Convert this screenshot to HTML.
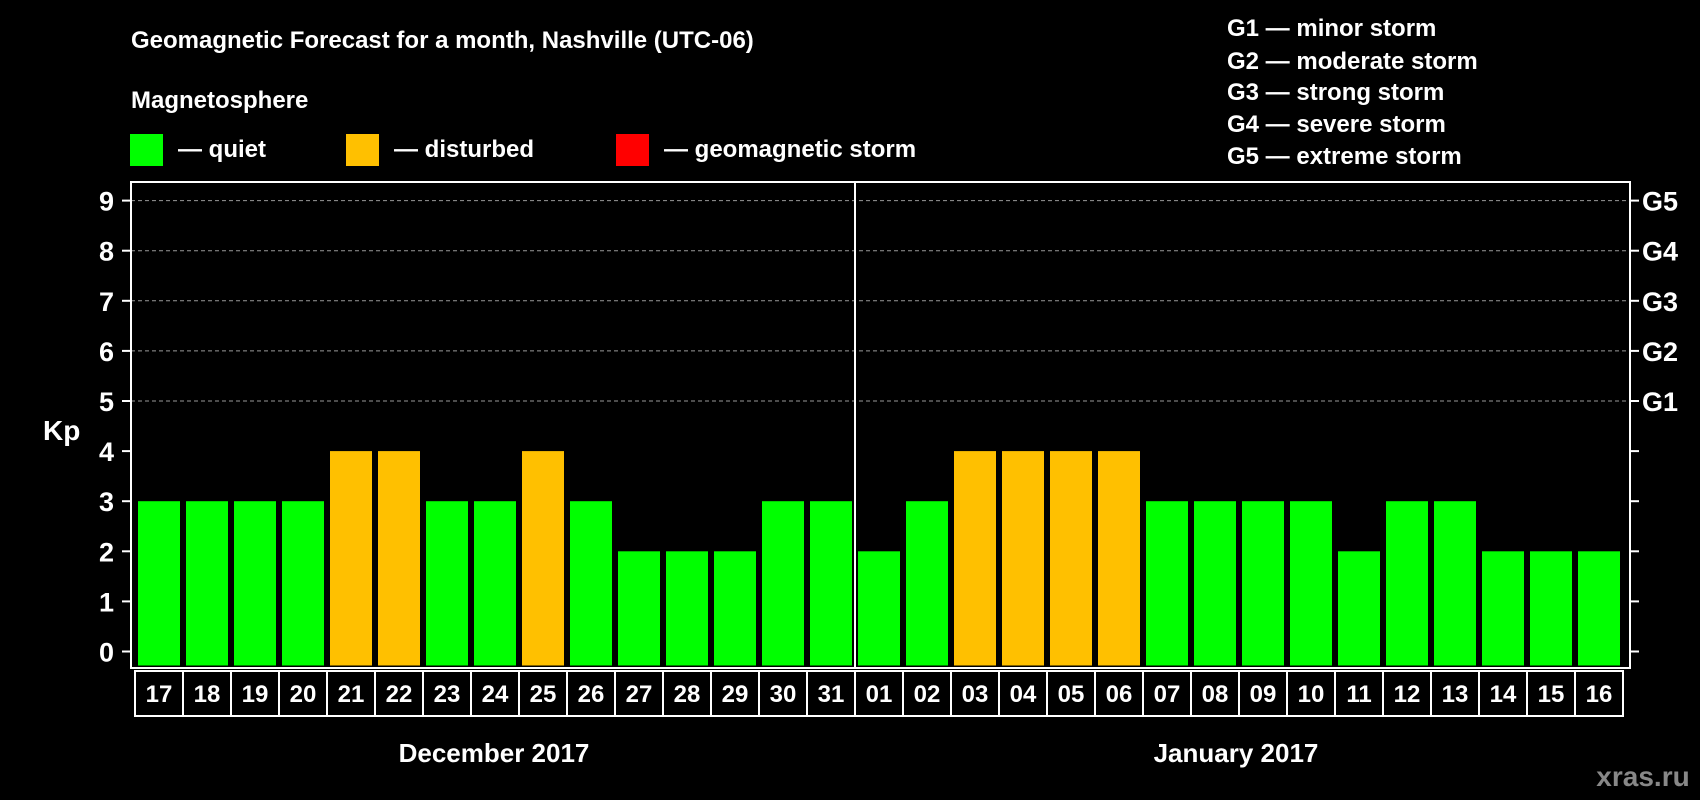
<!DOCTYPE html>
<html><head><meta charset="utf-8"><style>
body{margin:0;background:#000;width:1700px;height:800px;overflow:hidden}
svg{display:block;font-family:"Liberation Sans",Arial,sans-serif;font-weight:bold}
</style></head><body>
<svg id="c" width="1700" height="800" viewBox="0 0 1700 800">
<text x="131" y="48" fill="#fff" font-size="24">Geomagnetic Forecast for a month, Nashville (UTC-06)</text>
<text x="131" y="108" fill="#fff" font-size="24">Magnetosphere</text>
<g><rect x="130" y="134" width="33" height="32" fill="#00ff00"/><text x="178" y="157" fill="#fff" font-size="24">— quiet</text></g>
<g><rect x="346" y="134" width="33" height="32" fill="#ffc000"/><text x="394" y="157" fill="#fff" font-size="24">— disturbed</text></g>
<g><rect x="616" y="134" width="33" height="32" fill="#ff0000"/><text x="664" y="157" fill="#fff" font-size="24">— geomagnetic storm</text></g>
<g fill="#fff" font-size="24">
<text x="1227" y="36">G1 — minor storm</text>
<text x="1227" y="69">G2 — moderate storm</text>
<text x="1227" y="100">G3 — strong storm</text>
<text x="1227" y="132">G4 — severe storm</text>
<text x="1227" y="164">G5 — extreme storm</text>
</g>
<text x="43" y="440" fill="#fff" font-size="28">Kp</text>
<text x="494" y="762" fill="#fff" font-size="26" text-anchor="middle">December 2017</text>
<text x="1236" y="762" fill="#fff" font-size="26" text-anchor="middle">January 2017</text>
<text x="1643" y="786" fill="#888" font-size="28" text-anchor="middle">xras.ru</text>
<g id="plot"></g>
</svg>
<script>
const days=["17","18","19","20","21","22","23","24","25","26","27","28","29","30","31","01","02","03","04","05","06","07","08","09","10","11","12","13","14","15","16"];
const kp=[3,3,3,3,4,4,3,3,4,3,2,2,2,3,3,2,3,4,4,4,4,3,3,3,3,2,3,3,2,2,2];
const yTicks=[0,1,2,3,4,5,6,7,8,9];
const gLabels=["G1","G2","G3","G4","G5"];
const gLevels=[5,6,7,8,9];
const monthSplit=15;
const NS="http://www.w3.org/2000/svg";
const L=131,R=1630,T=182,B=668;
const y=v=>651.5-v*50.1;
const slot=48, x0=138, bw=42;
const x=i=>x0+i*slot;
const g=document.getElementById('plot');
function mk(t,a){const e=document.createElementNS(NS,t);for(const k in a)e.setAttribute(k,a[k]);g.appendChild(e);return e;}
gLevels.forEach(v=>{const e=mk('line',{x1:L,x2:R,y1:y(v),y2:y(v),stroke:'#999','stroke-dasharray':'4,3','stroke-width':1});

});
kp.forEach((v,i)=>{const e=mk('rect',{x:x(i),y:y(v),width:bw,height:y(0)-y(v)+14,fill:v>=5?'#ff0000':(v>=4?'#ffc000':'#00ff00')});

});
const fr=mk('rect',{x:L,y:T,width:R-L,height:B-T,fill:'none',stroke:'#fff','stroke-width':2});


const dx=(x(monthSplit-1)+bw+x(monthSplit))/2;
const dv=mk('line',{x1:dx,x2:dx,y1:T,y2:B,stroke:'#fff','stroke-width':2});


yTicks.forEach(v=>{
 mk('line',{x1:122,x2:L,y1:y(v),y2:y(v),stroke:'#fff','stroke-width':2});
 mk('line',{x1:R,x2:1639,y1:y(v),y2:y(v),stroke:'#fff','stroke-width':2});
 const t=mk('text',{x:114,y:y(v)+10,fill:'#fff','font-size':27,'text-anchor':'end'});t.textContent=v;
 
 
});
gLabels.forEach((s,i)=>{const t=mk('text',{x:1642,y:y(gLevels[i])+10,fill:'#fff','font-size':27});t.textContent=s;

});
days.forEach((d,i)=>{
 const bx=135+i*slot;
 const r=mk('rect',{x:bx,y:671,width:slot,height:45,fill:'#000',stroke:'#fff','stroke-width':2});
 
 
 const t=mk('text',{x:bx+slot/2,y:702,fill:'#fff','font-size':24,'text-anchor':'middle'});t.textContent=d;
 
 
});
</script>
</body></html>
